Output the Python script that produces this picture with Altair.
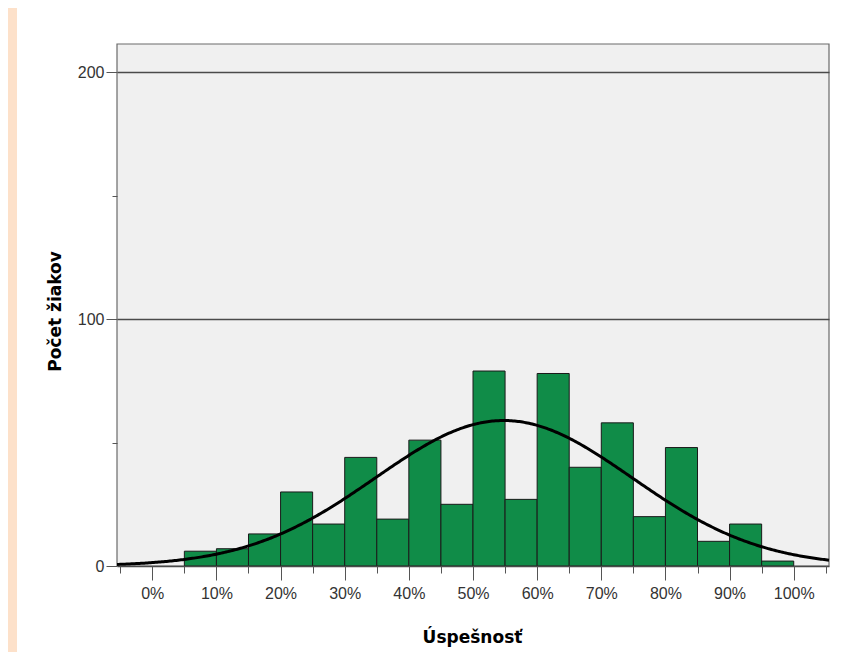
import altair as alt
import pandas as pd

# ---- data ----
bin_start = [5, 10, 15, 20, 25, 30, 35, 40, 45, 50, 55, 60, 65, 70, 75, 80, 85, 90, 95]
bin_end = [10, 15, 20, 25, 30, 35, 40, 45, 50, 55, 60, 65, 70, 75, 80, 85, 90, 95, 100]
counts = [6, 7, 13, 30, 17, 44, 19, 51, 25, 79, 27, 78, 40, 58, 20, 48, 10, 17, 2]
x_major_ticks = [0, 10, 20, 30, 40, 50, 60, 70, 80, 90, 100]
x_minor_ticks = [-5, 5, 15, 25, 35, 45, 55, 65, 75, 85, 95, 105]
y_major_ticks = [0, 100, 200]
y_minor_ticks = [50, 150]

N = sum(counts)
BIN_W = 5
MEAN = 54.8
SD = 20.0

X_DOMAIN = [-5.5, 105.5]
Y_DOMAIN = [0, 211.5]

W, H = 712, 522

df = pd.DataFrame({"start": bin_start, "end": bin_end, "count": counts})

LABEL_FONT = "Liberation Sans"
TITLE_FONT = "DejaVu Sans"

xscale = alt.Scale(domain=X_DOMAIN, nice=False, zero=False)
yscale = alt.Scale(domain=Y_DOMAIN, nice=False, zero=False)

one = alt.Data(values=[{"a": 1}])

white_bg = alt.Chart(one).mark_rect(fill="white", strokeWidth=0).encode(
    x=alt.value(-100), x2=alt.value(760), y=alt.value(-40), y2=alt.value(640)
)

plot_bg = alt.Chart(one).mark_rect(fill="#F0F0F0", stroke="#6a6a6a", strokeWidth=1.2).encode(
    x=alt.value(0), x2=alt.value(W), y=alt.value(0), y2=alt.value(H)
)

bars = alt.Chart(df).transform_calculate(base="0").mark_rect(
    fill="#108C48", stroke="#1a1a1a", strokeWidth=1
).encode(
    x=alt.X("start:Q", scale=xscale, axis=alt.Axis(
        orient="bottom", values=x_major_ticks, labelExpr="datum.value + '%'",
        tickSize=14, tickColor="#555", tickWidth=1, domain=False, grid=False,
        labelFont=LABEL_FONT, labelFontSize=16, labelColor="#333", labelPadding=5,
        title="Úspešnosť", titleFont=TITLE_FONT, titleFontSize=17, titleFontWeight="bold",
        titleColor="#000", titleX=355, titleY=76, titleBaseline="alphabetic",
        titleAnchor="middle", zindex=1)),
    x2="end:Q",
    y=alt.Y("count:Q", scale=yscale, axis=alt.Axis(
        orient="left", values=y_major_ticks, tickSize=11, tickColor="#555", tickWidth=1,
        domain=False, grid=True, gridColor="#4a4a4a", gridWidth=1.3,
        labelFont=LABEL_FONT, labelFontSize=16, labelColor="#333", labelPadding=2,
        title="Počet žiakov", titleFont=TITLE_FONT, titleFontSize=17, titleFontWeight="bold",
        titleColor="#000", titleAngle=-90, titleX=-62, titleY=267, titleBaseline="middle",
        titleAnchor="middle", zindex=1)),
    y2="base:Q",
)

curve = alt.Chart(alt.sequence(X_DOMAIN[0], X_DOMAIN[1] + 0.01, 0.25, as_="pct")).transform_calculate(
    dens=f"{N * BIN_W}/({SD}*sqrt(2*PI))*exp(-0.5*pow((datum.pct-{MEAN})/{SD},2))"
).mark_line(color="black", strokeWidth=3).encode(
    x=alt.X("pct:Q", scale=xscale, axis=alt.Axis(
        orient="bottom", values=x_minor_ticks, labels=False, tickSize=7,
        tickColor="#555", tickWidth=1, domain=False, grid=False, title=None, zindex=1)),
    y=alt.Y("dens:Q", scale=yscale, axis=alt.Axis(
        orient="left", values=y_minor_ticks, labels=False, tickSize=5,
        tickColor="#555", tickWidth=1, domain=False, grid=False, title=None, zindex=1)),
)

chart = alt.layer(white_bg, plot_bg, bars, curve).resolve_axis(
    x="independent", y="independent"
).properties(
    width=W, height=H,
    autosize=alt.AutoSizeParams(type="none"),
    padding={"left": 109, "top": 36, "right": 11, "bottom": 86},
    background="#FDE1CA",
).configure_view(stroke=None)

chart.save("out.html", embed_options={"renderer": "svg", "actions": False})
